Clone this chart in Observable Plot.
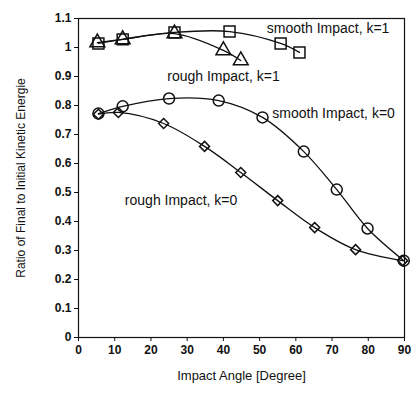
<!DOCTYPE html>
<html><head><meta charset="utf-8">
<script src="https://cdn.jsdelivr.net/npm/d3@7"></script>
<script src="https://cdn.jsdelivr.net/npm/@observablehq/plot@0.6"></script>
<style>
html,body{margin:0;padding:0;background:#fff;}
svg{font-family:"Liberation Sans",Arial,sans-serif;}
</style></head>
<body><div id="chart"></div>
<script>
const roughK1Angle = [5.2, 12.2, 26.5, 40, 44.8];
const roughK1Ratio = [1.017, 1.028, 1.048, 0.99, 0.955];
const smoothK1Angle = [5.5, 12.2, 26.5, 41.7, 55.8, 61];
const smoothK1Ratio = [1.014, 1.028, 1.052, 1.055, 1.014, 0.983];
const smoothK0Angle = [5.5, 12.2, 25, 38.7, 50.8, 62.2, 71.3, 79.8, 89.8];
const smoothK0Ratio = [0.772, 0.797, 0.824, 0.817, 0.759, 0.641, 0.51, 0.376, 0.265];
const roughK0Angle = [5.5, 11, 23.5, 34.8, 44.8, 55, 65.2, 76.5, 89.5];
const roughK0Ratio = [0.77, 0.776, 0.738, 0.659, 0.569, 0.472, 0.379, 0.303, 0.265];
const xTicks = [0, 10, 20, 30, 40, 50, 60, 70, 80, 90];
const yTicks = [0, 0.1, 0.2, 0.3, 0.4, 0.5, 0.6, 0.7, 0.8, 0.9, 1, 1.1];
const yTickLabels = ["0", "0.1", "0.2", "0.3", "0.4", "0.5", "0.6", "0.7", "0.8", "0.9", "1", "1.1"];
const seriesLabels = ["smooth Impact, k=1", "rough Impact, k=1", "smooth Impact, k=0", "rough Impact, k=0"];
const labelAngle = [52, 24.5, 53.5, 12.8];
const labelRatio = [1.066, 0.9, 0.772, 0.472];

const mk = (a, r) => a.map((x, i) => ({x, y: r[i]}));
const rk1 = mk(roughK1Angle, roughK1Ratio);
const sk1 = mk(smoothK1Angle, smoothK1Ratio);
const sk0 = mk(smoothK0Angle, smoothK0Ratio);
const rk0 = mk(roughK0Angle, roughK0Ratio);
const labels = seriesLabels.map((t, i) => ({t, x: labelAngle[i], y: labelRatio[i]}));

const lineOpts = {x: "x", y: "y", curve: "catmull-rom", stroke: "#111", strokeWidth: 1.3};
const dotOpts = {x: "x", y: "y", stroke: "#111", strokeWidth: 1.5, fill: "none"};

const chart = Plot.plot({
  width: 413, height: 393,
  marginLeft: 78, marginRight: 9, marginTop: 18, marginBottom: 56,
  x: {domain: [0, 90]},
  y: {domain: [0, 1.1]},
  style: {background: "#fff", color: "#111", fontSize: "12px"},
  marks: [
    Plot.frame({stroke: "#111", strokeWidth: 1.2}),
    Plot.axisX({ticks: xTicks, tickSize: 4, tickPadding: 4, fontWeight: "bold", fontSize: 12, label: null}),
    Plot.axisX({ticks: [], label: "Impact Angle [Degree]", labelArrow: "none", labelAnchor: "center", labelOffset: 42, fontSize: 13}),
    Plot.axisY({ticks: yTicks, tickSize: 4, tickPadding: 3, fontWeight: "bold", fontSize: 12, tickFormat: (d, i) => yTickLabels[i], label: null}),
    Plot.axisY({ticks: [], label: "Ratio of Final to Initial Kinetic Energie", labelArrow: "none", labelAnchor: "center", labelOffset: 62, fontSize: 12}),
    Plot.line(sk1, lineOpts),
    Plot.line(rk1, lineOpts),
    Plot.line(sk0, lineOpts),
    Plot.line(rk0, lineOpts),
    Plot.dot(sk1, {...dotOpts, symbol: "square", r: 6.2}),
    Plot.dot(rk1, {...dotOpts, symbol: "triangle", r: 5.5}),
    Plot.dot(sk0, {...dotOpts, symbol: "circle", r: 5.5}),
    Plot.dot(rk0, {...dotOpts, symbol: "diamond2", r: 4.5}),
    Plot.text(labels, {x: "x", y: "y", text: "t", textAnchor: "start", fontSize: 14, fill: "#111"})
  ]
});
document.getElementById("chart").append(chart);
</script></body></html>
